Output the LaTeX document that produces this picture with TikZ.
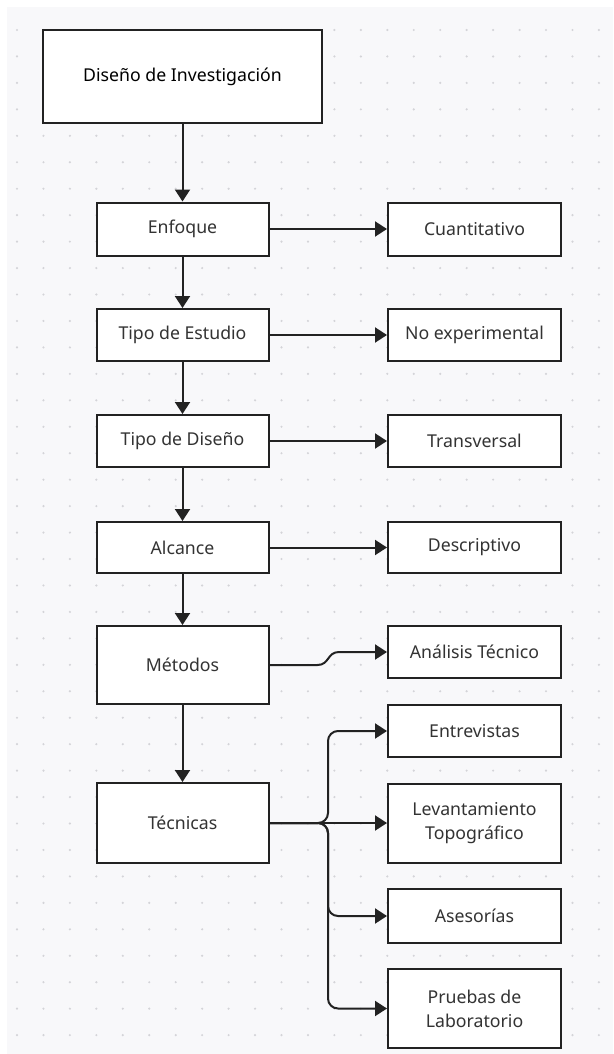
\documentclass[tikz,border=0pt]{standalone}
\usepackage{fontspec}
\setmainfont{Noto Sans}
\usetikzlibrary{arrows.meta,calc}
\definecolor{bgc}{RGB}{248,248,250}
\definecolor{dotc}{RGB}{212,212,216}
\definecolor{linec}{RGB}{34,34,34}
\definecolor{txtc}{RGB}{51,51,51}
\tikzset{
  box/.style={draw=linec, line width=2pt, fill=white, rectangle, inner sep=0pt,
    minimum width=172pt, text=txtc, align=center,
    font=\fontsize{17.7}{24}\selectfont},
  arr/.style={draw=linec, line width=2pt, -{Triangle[length=12pt,width=15pt]}},
}
\begin{document}
\begin{tikzpicture}[x=1pt,y=-1pt]
\useasboundingbox (0,0) rectangle (613,1054);
\fill[bgc] (7,7) rectangle (613,1054);
\foreach \i in {0,...,22}{
  \foreach \j in {0,...,38}{
    \fill[dotc] ({17+26.45*\i},{30+26.45*\j}) circle (1.2);
  }
}
% left column
\node[box, minimum width=279pt, minimum height=93pt, text=black] (title) at (182.5,76.5) {Diseño de Investigación};
\node[box, minimum height=53pt] (enfoque) at (182.5,229) {Enfoque};
\node[box, minimum height=52pt] (estudio) at (182.5,335) {Tipo de Estudio};
\node[box, minimum height=52pt] (diseno) at (182.5,441) {Tipo de Diseño};
\node[box, minimum height=51pt] (alcance) at (182.5,547.5) {Alcance};
\node[box, minimum height=78pt] (metodos) at (182.5,665) {Métodos};
\node[box, minimum height=80pt] (tecnicas) at (182.5,823) {Técnicas};
% right column
\node[box, minimum width=173pt, minimum height=53pt] (cuant) at (474.5,229) {Cuantitativo};
\node[box, minimum width=173pt, minimum height=52pt] (noexp) at (474.5,335) {No experimental};
\node[box, minimum width=173pt, minimum height=52pt] (transv) at (474.5,441) {Transversal};
\node[box, minimum width=173pt, minimum height=51pt] (descr) at (474.5,547.5) {Descriptivo};
\node[box, minimum width=173pt, minimum height=52pt] (analisis) at (474.5,652) {Análisis Técnico};
\node[box, minimum width=173pt, minimum height=52pt] (entrev) at (474.5,731) {Entrevistas};
\node[box, minimum width=173pt, minimum height=79pt] (levant) at (474.5,823) {Levantamiento\\Topográfico};
\node[box, minimum width=173pt, minimum height=54pt] (asesor) at (474.5,916) {Asesorías};
\node[box, minimum width=173pt, minimum height=79pt] (pruebas) at (474.5,1008.5) {Pruebas de\\Laboratorio};
% vertical chain
\draw[arr] (title) -- (enfoque);
\draw[arr] (enfoque) -- (estudio);
\draw[arr] (estudio) -- (diseno);
\draw[arr] (diseno) -- (alcance);
\draw[arr] (alcance) -- (metodos);
\draw[arr] (metodos) -- (tecnicas);
% horizontal
\draw[arr] (enfoque.east) -- (cuant.west);
\draw[arr] (estudio.east) -- (noexp.west);
\draw[arr] (diseno.east) -- (transv.west);
\draw[arr] (alcance.east) -- (descr.west);
\draw[arr] (metodos.east) -- ($(metodos.east)+(48,0)$) .. controls +(12,0) and +(-12,0) .. ($(analisis.west)+(-48,0)$) -- (analisis.west);
% tecnicas branches
\coordinate (trunk) at (328,823);
\draw[arr] (tecnicas.east) -- (levant.west);
\draw[arr, rounded corners=10pt] (tecnicas.east) -| (trunk |- entrev.west) -- (entrev.west);
\draw[arr, rounded corners=10pt] (tecnicas.east) -| (trunk |- asesor.west) -- (asesor.west);
\draw[arr, rounded corners=10pt] (tecnicas.east) -| (trunk |- pruebas.west) -- (pruebas.west);
\end{tikzpicture}
\end{document}
